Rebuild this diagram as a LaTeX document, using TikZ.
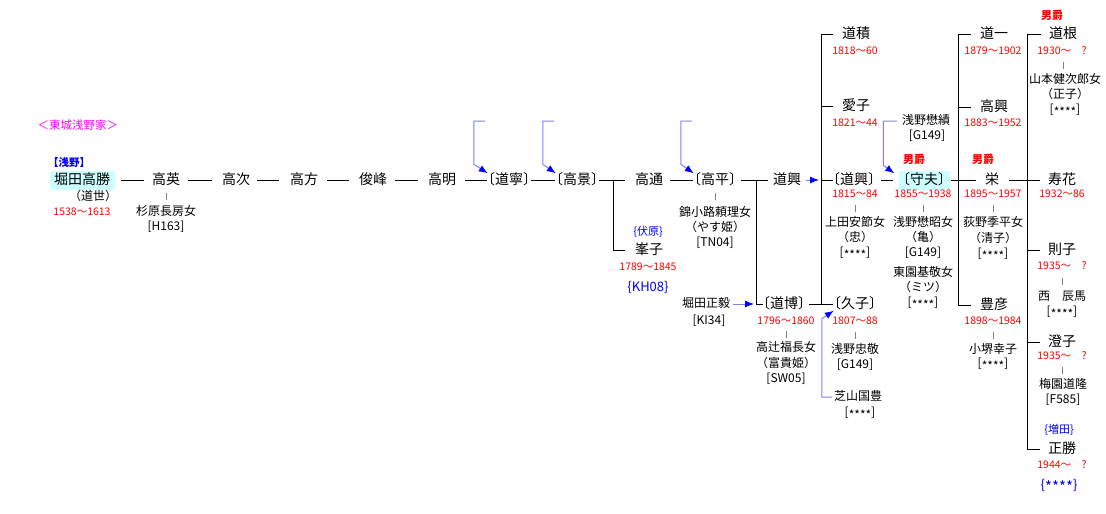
\documentclass[tikz,border=0pt]{standalone}
\usepackage{fontspec}
\setmainfont{Noto Sans CJK JP}[RawFeature=+halt]
\usetikzlibrary{arrows.meta,calc}
\definecolor{hlcyan}{HTML}{CCFFFF}
\definecolor{adoptblue}{HTML}{8080FF}
\definecolor{tickgray}{HTML}{808080}
\definecolor{mag}{HTML}{FF00FF}
\definecolor{pureblue}{HTML}{0000FF}
\definecolor{purered}{HTML}{FF0000}
\tikzset{
  bx/.style={inner sep=0pt, anchor=center},
  nm/.style={bx, text height=11pt, text depth=2pt, font=\fontsize{14}{16}\selectfont},
  sp/.style={bx, text height=9.5pt, text depth=1.8pt, font=\fontsize{12}{14}\selectfont},
  dt/.style={bx, text height=8pt, text depth=1.5pt, text=purered, font=\fontsize{10.5}{12}\selectfont},
  baron/.style={bx, text height=8.5pt, text depth=1.5pt, text=purered, font=\fontsize{11}{13}\selectfont\bfseries},
  fam/.style={bx, text height=9pt, text depth=2pt, text=pureblue, font=\fontsize{11}{13}\selectfont},
  codelbl/.style={bx, text height=10pt, text depth=2.5pt, text=pureblue, font=\fontsize{13}{15}\selectfont},
  hl/.style={fill=hlcyan, inner xsep=4.5pt, inner ysep=3pt},
  ln/.style={line width=1pt, draw=black},
  tickln/.style={line width=1pt, draw=tickgray},
  adopt/.style={line width=1pt, draw=adoptblue, -{Latex[length=9pt,width=7pt,color=pureblue]}},
}
\newcommand\tickbetween[2]{\draw[tickln] ($(#1.south)!.5!(#2.north)$) ++(0,-3.5) -- ++(0,7);}
\newcommand\stars{[\raisebox{-2.5pt}{****}]}
\begin{document}
\begin{tikzpicture}[x=1pt,y=-1pt]
\fill[white] (0,0) rectangle (1106,514);
\useasboundingbox (0,0) rectangle (1106,514);

% labels
\node[bx, text=mag, font=\fontsize{11.5}{13}\selectfont] (title) at (78,125) {＜東城浅野家＞};
\node[bx, text=pureblue, font=\fontsize{10.5}{12}\selectfont\bfseries] (tag) at (69,162) {【浅野】};

% main line
\node[nm,hl] (h1) at (82,180) {堀田高勝};
\node[sp] (h1a) at (93,197) {（道世）};
\node[dt] (h1d) at (82,212) {1538～1613};
\node[nm] (h2) at (166,180) {高英};
\node[sp] (h2s) at (166,212) {杉原長房女};
\node[sp] (h2c) at (166,227) {[H163]};
\node[nm] (h3) at (236,180) {高次};
\node[nm] (h4) at (304,180) {高方};
\node[nm] (h5) at (373,180) {俊峰};
\node[nm] (h6) at (442,180) {高明};
\node[nm] (h7) at (509,180) {〔道寧〕};
\node[nm] (h8) at (577,180) {〔高景〕};
\node[nm] (h9) at (649,180) {高通};
\node[fam] (fushi) at (648,232) {\{伏原\}};
\node[nm] (mineko) at (649,250) {峯子};
\node[dt] (mined) at (648,267) {1789～1845};
\node[codelbl] (kh08) at (648,288) {\{KH08\}};
\node[nm] (h10) at (715,180) {〔高平〕};
\node[sp] (h10s) at (715,213) {錦小路頼理女};
\node[sp] (h10a) at (715,228) {（やす姫）};
\node[sp] (h10c) at (715,243) {[TN04]};
\node[nm] (h11) at (787,180) {道興};
\node[sp] (masa) at (706,304) {堀田正毅};
\node[sp] (masac) at (709,321) {[KI34]};
\node[nm] (dohaku) at (784,304) {〔道博〕};
\node[dt] (dohakud) at (786,321) {1796～1860};
\node[sp] (dohakus) at (786,348) {高辻福長女};
\node[sp] (dohakua) at (786,364) {（富貴姫）};
\node[sp] (dohakuc) at (786,379) {[SW05]};
\node[nm] (doseki) at (856,34) {道積};
\node[dt] (dosekid) at (855,51) {1818～60};
\node[nm] (aiko) at (856,106) {愛子};
\node[dt] (aikod) at (855,123) {1821～44};
\node[nm] (dok2) at (854,180) {〔道興〕};
\node[dt] (dok2d) at (855,194) {1815～84};
\node[sp] (dok2s) at (855,223) {上田安節女};
\node[sp] (dok2a) at (855,238) {（忠）};
\node[sp] (dok2c) at (855,253) {\stars};
\node[nm] (kuko) at (855,304) {〔久子〕};
\node[dt] (kukod) at (855,321) {1807～88};
\node[sp] (kukos) at (855,350) {浅野忠敬};
\node[sp] (kukoc) at (855,365) {[G149]};
\node[sp] (shiba) at (858,397) {芝山国豊};
\node[sp] (shibac) at (860,413) {\stars};
\node[sp] (asano) at (926,121) {浅野懋績};
\node[sp] (asanoc) at (927,136) {[G149]};
\node[baron] (b1) at (914,160) {男爵};
\node[nm,hl] (morio) at (924,180) {〔守夫〕};
\node[dt] (moriod) at (923,194) {1855～1938};
\node[sp] (morios) at (923,223) {浅野懋昭女};
\node[sp] (morioa) at (923,238) {（亀）};
\node[sp] (morioc) at (923,253) {[G149]};
\node[sp] (morios2) at (923,273) {東園基敬女};
\node[sp] (morioa2) at (923,288) {（ミツ）};
\node[sp] (morioc2) at (923,303) {\stars};
\node[nm] (doichi) at (994,34) {道一};
\node[dt] (doichid) at (993,51) {1879～1902};
\node[nm] (takaoki) at (994,107) {高興};
\node[dt] (takaokid) at (993,123) {1883～1952};
\node[baron] (b2) at (983,160) {男爵};
\node[nm] (sakae) at (992,180) {栄};
\node[dt] (sakaed) at (993,194) {1895～1957};
\node[sp] (sakaes) at (993,223) {荻野季平女};
\node[sp] (sakaea) at (993,239) {（清子）};
\node[sp] (sakaec) at (993,254) {\stars};
\node[nm] (toyo) at (994,305) {豊彦};
\node[dt] (toyod) at (993,321) {1898～1984};
\node[sp] (toyos) at (993,350) {小堺幸子};
\node[sp] (toyoc) at (993,364) {\stars};
\node[baron] (b3) at (1052,16) {男爵};
\node[nm] (michine) at (1063,34) {道根};
\node[dt] (michined) at (1062,51) {1930～　?};
\node[sp] (michines) at (1065,80) {山本健次郎女};
\node[sp] (michinea) at (1065,95) {（正子）};
\node[sp] (michinec) at (1065,110) {\stars};
\node[nm] (juka) at (1062,180) {寿花};
\node[dt] (jukad) at (1062,194) {1932～86};
\node[nm] (noriko) at (1062,250) {則子};
\node[dt] (norikod) at (1062,266) {1935～　?};
\node[sp] (norikos) at (1062,297) {西　辰馬};
\node[sp] (norikoc) at (1062,312) {\stars};
\node[nm] (sumiko) at (1062,342) {澄子};
\node[dt] (sumikod) at (1062,356) {1935～　?};
\node[sp] (sumikos) at (1063,385) {梅園道隆};
\node[sp] (sumikoc) at (1063,400) {[F585]};
\node[fam] (masuda) at (1059,430) {\{増田\}};
\node[nm] (masakatsu) at (1062,449) {正勝};
\node[dt] (masakatsud) at (1062,465) {1944～　?};
\node[codelbl] (masakatsuc) at (1059,486) {\{\raisebox{-3pt}{\fontsize{15}{16}\selectfont ****}\}};

% connectors, main row
\draw[ln, shorten <=6pt, shorten >=8pt] (h1) -- (h2);
\draw[ln, shorten <=8pt, shorten >=10pt] (h2) -- (h3);
\draw[ln, shorten <=7pt, shorten >=11pt] (h3) -- (h4);
\draw[ln, shorten <=9pt, shorten >=10pt] (h4) -- (h5);
\draw[ln, shorten <=8pt, shorten >=10pt] (h5) -- (h6);
\draw[ln, shorten <=9pt, shorten >=1pt] (h6) -- (h7);
\draw[ln, shorten <=1pt, shorten >=1pt] (h7) -- (h8);
\draw[ln, shorten <=1pt, shorten >=10pt] (h8) -- (h9);
\coordinate (j1) at (613,180);
\draw[ln] (j1) |- ([xshift=-10pt]mineko.west);
\draw[ln, shorten <=7pt, shorten >=1pt] (h9) -- (h10);
\draw[ln, shorten <=5pt, shorten >=5pt] (h10) -- (h11);
\coordinate (j2) at (756,180);
\draw[ln] (j2) |- (dohaku.west);
\draw[adopt, shorten <=3pt, shorten >=2pt] (masa) -- (j2 |- dohaku);

\coordinate (j3) at (821,304);
\draw[adopt, shorten <=5pt, shorten >=2pt] (h11) -- (j3 |- h11);
\draw[ln, shorten <=4pt, shorten >=1pt] (dohaku) -- (kuko);
\draw[ln] ([xshift=-9pt]doseki.west) -| (j3);
\draw[ln] (j3 |- aiko) -- ([xshift=-9pt]aiko.west);
\draw[ln] (j3 |- dok2) -- (dok2.west);
\draw[ln, shorten <=6pt, shorten >=5pt] (dok2) -- (morio);

\coordinate (j4) at (958,305);
\draw[ln, shorten <=1pt, shorten >=9pt] (morio) -- (sakae);
\draw[ln] ([xshift=-9pt]doichi.west) -| (j4) -- ([xshift=-9pt]toyo.west);
\draw[ln] (j4 |- takaoki) -- ([xshift=-9pt]takaoki.west);

\coordinate (j5) at (1027,449);
\draw[ln, shorten <=10pt, shorten >=8pt] (sakae) -- (juka);
\draw[ln] ([xshift=-8pt]michine.west) -| (j5) -- ([xshift=-8pt]masakatsu.west);
\draw[ln] (j5 |- noriko) -- ([xshift=-8pt]noriko.west);
\draw[ln] (j5 |- sumiko) -- ([xshift=-8pt]sumiko.west);

% adoption arrows
\coordinate (t7) at (485,121);
\draw[adopt] (t7) -| ([xshift=-14pt,yshift=9pt]h7.north west) -- (h7.north west);
\coordinate (t8) at (554,121);
\draw[adopt] (t8) -| ([xshift=-13pt,yshift=9pt]h8.north west) -- (h8.north west);
\coordinate (t10) at (692,121);
\draw[adopt] (t10) -| ([xshift=-13pt,yshift=9pt]h10.north west) -- (h10.north west);
\draw[adopt] ([xshift=-2pt]shiba.west) -| ([xshift=-12pt,yshift=-8pt]kuko.south west) -- (kuko.south west);
\draw[adopt] ([xshift=-5pt]asano.west) -| ([xshift=-15pt,yshift=5pt]morio.north west) -- ([xshift=-4pt,yshift=-3pt]morio.north west);

% ticks to spouses
\tickbetween{h2}{h2s}
\tickbetween{h10}{h10s}
\tickbetween{dohakud}{dohakus}
\tickbetween{dok2d}{dok2s}
\tickbetween{kukod}{kukos}
\tickbetween{moriod}{morios}
\tickbetween{sakaed}{sakaes}
\tickbetween{toyod}{toyos}
\tickbetween{michined}{michines}
\tickbetween{norikod}{norikos}
\tickbetween{sumikod}{sumikos}
\end{tikzpicture}
\end{document}
